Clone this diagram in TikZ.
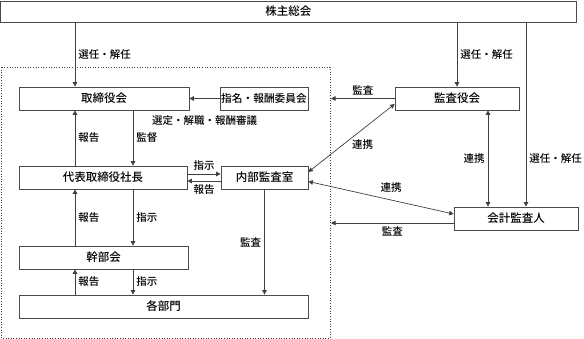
\documentclass[tikz,border=0pt]{standalone}
\usepackage{fontspec}
\setmainfont{Noto Sans CJK JP}[UprightFont=* Medium]
\usetikzlibrary{arrows.meta}
\begin{document}
\begin{tikzpicture}[x=1pt,y=-1pt,
  box/.style={draw=black!70,line width=0.7pt,minimum height=23pt,inner sep=0pt,font=\fontsize{11.5}{12}\selectfont},
  lbl/.style={inner sep=3pt,font=\fontsize{10.5}{11}\selectfont},
  arr/.style={draw=black!75,line width=0.7pt,-{Triangle[length=4.5pt,width=4.5pt]}},
  both/.style={draw=black!75,line width=0.7pt,{Triangle[length=4.5pt,width=4.5pt]}-{Triangle[length=4.5pt,width=4.5pt]}}]
\useasboundingbox (0,0) rectangle (584,339);
\draw[dotted,black!75,line width=0.6pt] (1,67) rectangle (330,338);
\coordinate (frameE) at (331,0);
\coordinate (xa) at (75,0);
\coordinate (xb) at (133,0);
\coordinate (xd) at (526,0);
\coordinate (xe) at (488,0);
\node[box,minimum width=575.5pt,minimum height=21pt] (soukai) at (288.25,11.5) {株主総会};
\node[box,minimum width=170pt] (torishimari) at (104,98.5) {取締役会};
\node[box,minimum width=88pt,font=\fontsize{10.7}{11}\selectfont] (iinkai) at (264,98.5) {指名・報酬委員会};
\node[box,minimum width=124pt] (kansayaku) at (457,98.5) {監査役会};
\node[box,minimum width=168pt] (daihyo) at (103,177.5) {代表取締役社長};
\node[box,minimum width=87pt] (naibu) at (264.5,177.5) {内部監査室};
\node[box,minimum width=169pt] (kanbu) at (103.5,257.5) {幹部会};
\node[box,minimum width=289pt] (kakubu) at (163.5,306.5) {各部門};
\node[box,minimum width=124pt] (kaikei) at (516,218.5) {会計監査人};
\draw[arr] (soukai.south -| xa) -- node[lbl,right] (l1) {選任・解任} (torishimari.north -| xa);
\draw[arr] (soukai.south -| kansayaku) -- node[lbl,right] (l2) {選任・解任} (kansayaku.north);
\draw[arr] (soukai.south -| xd) -- node[lbl,right,pos=.74] (l3) {選任・解任} (kaikei.north -| xd);
\draw[both] (kansayaku.south -| xe) -- node[lbl,left] (l4) {連携} (kaikei.north -| xe);
\draw[arr] (kansayaku.west) -- node[lbl,above] (l5) {監査} (kansayaku.west -| frameE);
\draw[arr] ([yshift=-4.5pt]kaikei.west) -- node[lbl,below] (l6) {監査} ([yshift=-4.5pt]kaikei.west -| frameE);
\draw[both] ([yshift=-5.5pt]kansayaku.west) -- node[lbl,pos=.6,right,xshift=6pt] (l7) {連携} ([yshift=5.5pt]naibu.east);
\draw[both] ([yshift=-4pt]naibu.east) -- node[lbl,pos=.57,above=4pt] (l8) {連携} ([yshift=4.5pt]kaikei.west);
\draw[arr] (iinkai.west) -- node[lbl,below=14pt] (l9) {選定・解職・報酬審議} (torishimari.east);
\draw[arr] (torishimari.south -| xb) -- node[lbl,right] (l10) {監督} (daihyo.north -| xb);
\draw[arr] (daihyo.north -| xa) -- node[lbl,right] (l11) {報告} (torishimari.south -| xa);
\draw[arr] ([yshift=3.5pt]daihyo.east) -- node[lbl,above] (l12) {指示} ([yshift=3.5pt]naibu.west);
\draw[arr] ([yshift=-3.5pt]naibu.west) -- node[lbl,below] (l13) {報告} ([yshift=-3.5pt]daihyo.east);
\draw[arr] (daihyo.south -| xb) -- node[lbl,right] (l14) {指示} (kanbu.north -| xb);
\draw[arr] (kanbu.north -| xa) -- node[lbl,right] (l15) {報告} (daihyo.south -| xa);
\draw[arr] (kanbu.south -| xb) -- node[lbl,right] (l16) {指示} (kakubu.north -| xb);
\draw[arr] (kakubu.north -| xa) -- node[lbl,right] (l17) {報告} (kanbu.south -| xa);
\draw[arr] (naibu.south) -- node[lbl,left] (l18) {監査} (kakubu.north -| naibu.south);
\end{tikzpicture}
\end{document}
